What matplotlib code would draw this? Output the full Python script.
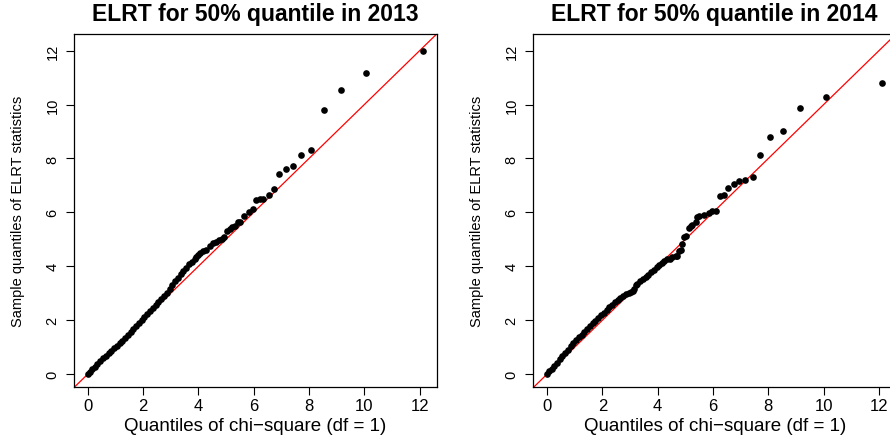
import matplotlib
matplotlib.use("Agg")
from matplotlib import pyplot as plt

plt.rcParams['font.family'] = ['Liberation Sans', 'DejaVu Sans']

# theoretical chi-square(1) quantiles vs sample ELRT quantiles
x13 = [0.00, 0.08, 0.16, 0.25, 0.35, 0.45, 0.55, 0.65, 0.75, 0.85,
       0.95, 1.05, 1.15, 1.25, 1.35, 1.45, 1.55, 1.65, 1.75, 1.85,
       1.95, 2.05, 2.15, 2.25, 2.35, 2.45, 2.55, 2.65, 2.75, 2.85,
       2.96, 3.06, 3.16, 3.26, 3.36, 3.46, 3.56, 3.66, 3.76, 3.86,
       3.93, 3.98, 4.05, 4.17, 4.29, 4.41, 4.53, 4.65, 4.74, 4.84, 4.92,
       5.02, 5.14, 5.21, 5.32, 5.44, 5.51, 5.65, 5.84, 5.97, 6.10,
       6.23, 6.34, 6.55, 6.73, 6.93, 7.17, 7.41, 7.71, 8.07, 8.53,
       9.15, 10.07, 12.12]
y13 = [0.00, 0.09, 0.18, 0.27, 0.38, 0.48, 0.58, 0.67, 0.77, 0.86,
       0.96, 1.06, 1.15, 1.24, 1.34, 1.45, 1.56, 1.67, 1.78, 1.89,
       2.00, 2.11, 2.22, 2.34, 2.46, 2.56, 2.66, 2.77, 2.88, 3.00,
       3.16, 3.30, 3.45, 3.58, 3.70, 3.83, 3.95, 4.07, 4.17, 4.27,
       4.36, 4.42, 4.50, 4.55, 4.62, 4.77, 4.86, 4.91, 4.96, 5.03, 5.07,
       5.31, 5.38, 5.46, 5.51, 5.65, 5.65, 5.88, 6.00, 6.12, 6.47,
       6.48, 6.49, 6.64, 6.87, 7.42, 7.61, 7.71, 8.13, 8.31, 9.80,
       10.54, 11.16, 12.00]

x14 = [0.00, 0.08, 0.16, 0.25, 0.35, 0.45, 0.55, 0.65, 0.75, 0.85,
       0.95, 1.05, 1.15, 1.25, 1.35, 1.45, 1.55, 1.65, 1.75, 1.85,
       1.95, 2.05, 2.15, 2.25, 2.35, 2.45, 2.55, 2.65, 2.75, 2.85,
       2.95, 3.02, 3.10, 3.16, 3.21, 3.26, 3.36, 3.46, 3.56, 3.66,
       3.76, 3.86, 3.96, 4.05, 4.15, 4.23, 4.35, 4.45, 4.53, 4.65,
       4.71, 4.77, 4.83, 4.89, 4.95, 5.01, 5.13, 5.19, 5.25, 5.37,
       5.43, 5.50, 5.67, 5.86, 5.98, 6.10, 6.25, 6.39, 6.55, 6.76,
       6.94, 7.16, 7.43, 7.70, 8.07, 8.54, 9.15, 10.08, 12.11]
y14 = [0.00, 0.10, 0.20, 0.31, 0.43, 0.55, 0.67, 0.79, 0.91, 1.03,
       1.14, 1.25, 1.36, 1.46, 1.56, 1.66, 1.77, 1.88, 1.98, 2.08,
       2.18, 2.28, 2.39, 2.49, 2.58, 2.67, 2.75, 2.84, 2.91, 2.96,
       3.00, 3.04, 3.08, 3.16, 3.30, 3.35, 3.44, 3.52, 3.60, 3.68,
       3.77, 3.87, 3.96, 4.03, 4.12, 4.20, 4.27, 4.28, 4.33, 4.37,
       4.40, 4.57, 4.62, 4.82, 5.10, 5.14, 5.41, 5.48, 5.52, 5.66,
       5.84, 5.87, 5.91, 5.98, 6.04, 6.06, 6.62, 6.66, 6.89, 7.05,
       7.18, 7.21, 7.32, 8.13, 8.81, 9.01, 9.87, 10.28, 10.79]

years = ['2013', '2014']
panels = [(x13, y13), (x14, y14)]
ticks = [0, 2, 4, 6, 8, 10, 12]

fig = plt.figure(figsize=(8.9, 4.39), dpi=100)
lefts = [0.0831, 0.5992]

for left, yr, (xs, ys) in zip(lefts, years, panels):
    ax = fig.add_axes([left, 0.1155, 0.4076, 0.8048])
    ax.plot(xs, ys, 'o', color='black', markersize=4.8, markeredgewidth=0, zorder=3)
    ax.axline((0, 0), slope=1, color='red', lw=0.9, zorder=2)
    ax.set_xlim(-0.5, 12.62)
    ax.set_ylim(-0.49, 12.62)
    ax.set_xticks(ticks)
    ax.set_yticks(ticks)
    ax.set_yticklabels([str(t) for t in ticks], rotation=90, va='center')
    ax.tick_params(direction='out', length=5.5, width=0.8, pad=2)
    ax.tick_params(axis='x', labelsize=12)
    ax.tick_params(axis='y', labelsize=10.5, pad=5)
    for s in ax.spines.values():
        s.set_linewidth(0.9)
    ax.set_title('ELRT for 50% quantile in ' + yr, fontsize=16.5, fontweight='bold', pad=10)
    ax.set_xlabel('Quantiles of chi\u2212square (df = 1)', fontsize=13.5)
    ax.set_ylabel('Sample quantiles of ELRT statistics', fontsize=10.5)
    ax.xaxis.set_label_coords(0.5, -0.085)
    ax.yaxis.set_label_coords(-0.135, 0.5)

plt.savefig('out.png', dpi=100)
